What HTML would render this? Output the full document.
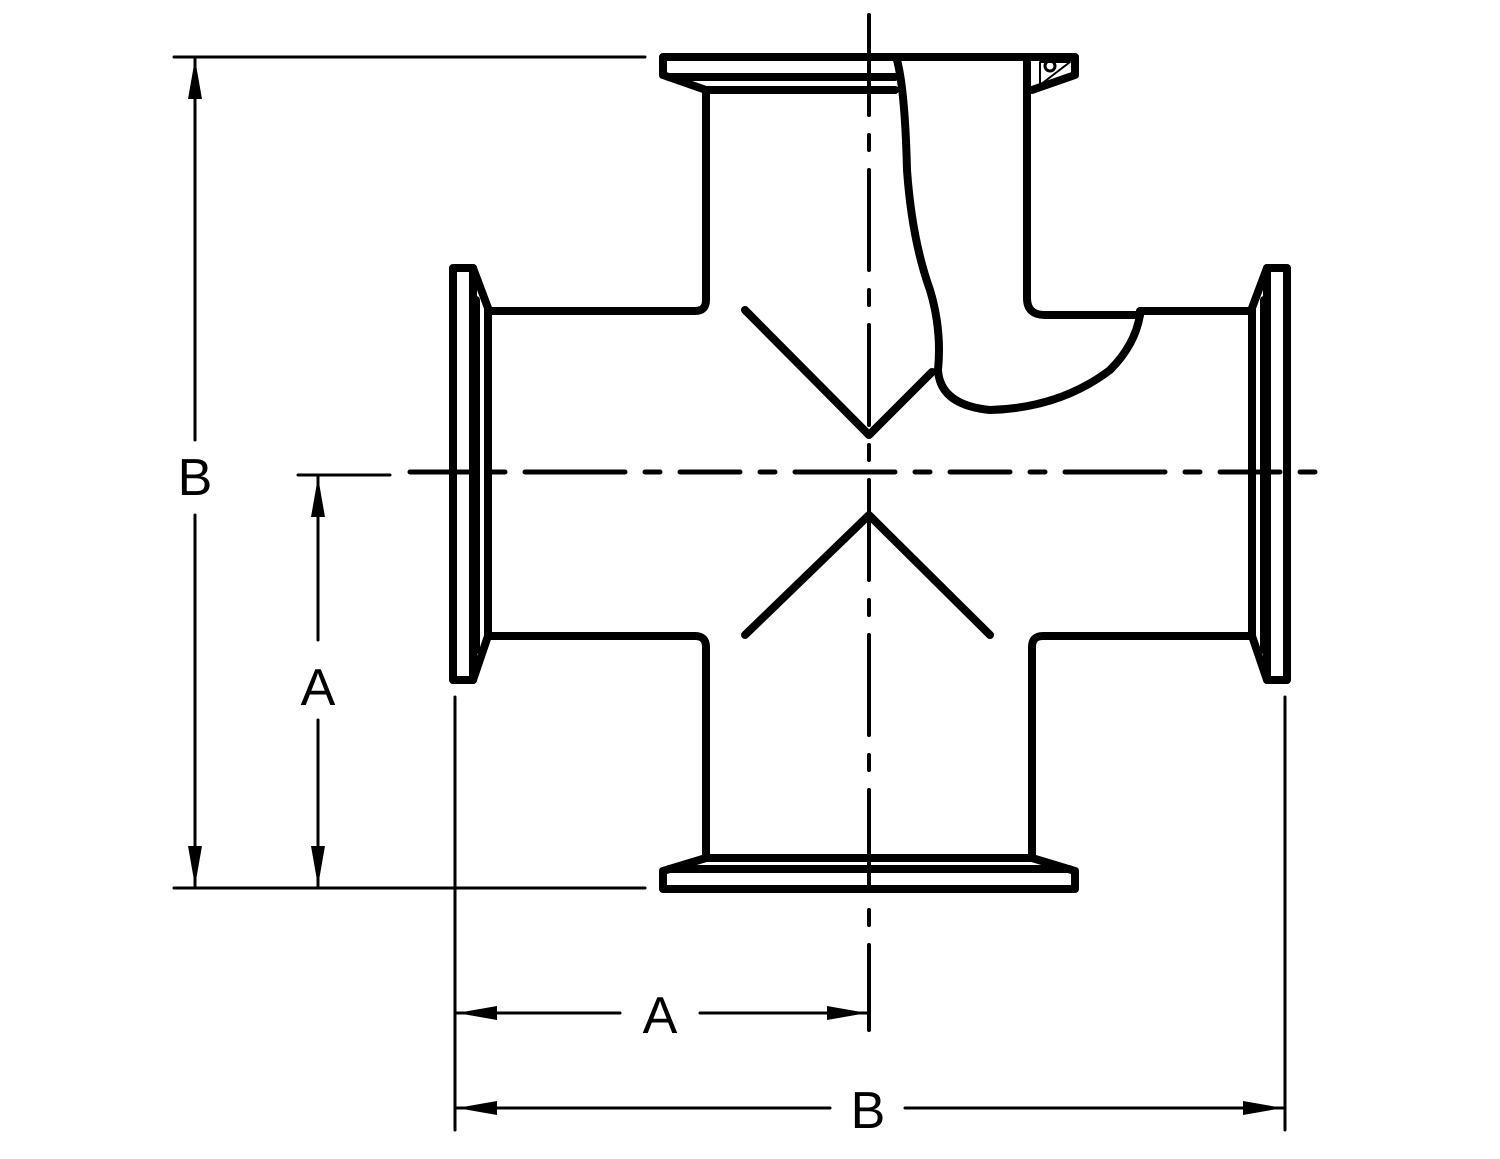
<!DOCTYPE html>
<html><head><style>html,body{margin:0;padding:0;background:#fff}svg{display:block}</style></head>
<body>
<svg width="1500" height="1159" viewBox="0 0 1500 1159" xmlns="http://www.w3.org/2000/svg">
<defs>
<marker id="ar" markerWidth="40" markerHeight="14" refX="40" refY="7" orient="auto" markerUnits="userSpaceOnUse">
<path d="M0,0 L40,7 L0,14 Z" fill="#000"/>
</marker>
</defs>
<g fill="none" stroke="#000" stroke-linecap="round" stroke-linejoin="round">
<!-- center lines -->
<line x1="869" y1="15" x2="869" y2="1030" stroke-width="4" stroke-dasharray="100,20,15,20"/>
<line x1="410" y1="472" x2="1325" y2="472" stroke-width="5" stroke-dasharray="60,20,15,20,100,20,15,20"/>

<g stroke-width="8">
<!-- top flange -->
<path d="M663,57 H1075 V75 L1032,90 M663,57 V75 L706,90 H895"/>
<line x1="669" y1="77" x2="895" y2="77"/>
<!-- left pipe up -->
<path d="M706,90 V300 Q706,311 695,311 H488"/>
<!-- left flange -->
<rect x="453" y="268" width="20" height="412"/>
<path d="M473,268 L488,308 V636 L473,680"/>
<line x1="476" y1="300" x2="476" y2="650"/>
<path d="M488,636 H695 Q706,636 706,647 V858"/>
<!-- bottom flange -->
<path d="M706,858 H1032 L1075,871 V889 H663 V871 L706,858"/>
<line x1="669" y1="869" x2="1069" y2="869"/>
<path d="M1032,858 V647 Q1032,636 1043,636 H1250"/>
<!-- right flange -->
<rect x="1267" y="268" width="20" height="412"/>
<path d="M1267,268 L1252,308 V636 L1267,680"/>
<line x1="1264" y1="300" x2="1264" y2="650"/>
<line x1="1140" y1="311" x2="1252" y2="311"/>
<!-- cutaway -->
<path d="M1027,62 V298 Q1027,315 1045,315 H1140"/>
<path d="M897,60 Q905,90 907,170 Q912,240 930,290 Q942,330 938,370 Q940,405 990,410 Q1060,408 1110,370 Q1135,345 1140,315"/>
<!-- diagonals -->
<path d="M745,310 L869,435 L932,372"/>
<path d="M745,635 L869,515 L990,635"/>
</g>
<path d="M1040,62 L1070,62 L1040,85 Z" stroke-width="2"/>
<circle cx="1050" cy="66" r="5" stroke-width="3"/>

<g stroke-width="3">
<line x1="174" y1="57" x2="645" y2="57"/>
<line x1="174" y1="888" x2="645" y2="888"/>
<line x1="298" y1="475" x2="390" y2="475"/>
<line x1="455" y1="697" x2="455" y2="1130"/>
<line x1="1285" y1="697" x2="1285" y2="1130"/>
<line x1="195" y1="440" x2="195" y2="59" marker-end="url(#ar)"/>
<line x1="195" y1="515" x2="195" y2="886" marker-end="url(#ar)"/>
<line x1="318" y1="640" x2="318" y2="477" marker-end="url(#ar)"/>
<line x1="318" y1="720" x2="318" y2="886" marker-end="url(#ar)"/>
<line x1="620" y1="1013" x2="457" y2="1013" marker-end="url(#ar)"/>
<line x1="700" y1="1013" x2="867" y2="1013" marker-end="url(#ar)"/>
<line x1="830" y1="1108" x2="457" y2="1108" marker-end="url(#ar)"/>
<line x1="905" y1="1108" x2="1283" y2="1108" marker-end="url(#ar)"/>
</g>
</g>
<g font-family="Liberation Sans, sans-serif" font-size="52" text-anchor="middle" fill="#000">
<text x="195" y="495">B</text>
<text x="318" y="705">A</text>
<text x="660" y="1033">A</text>
<text x="868" y="1128">B</text>
</g>
</svg>
</body></html>
